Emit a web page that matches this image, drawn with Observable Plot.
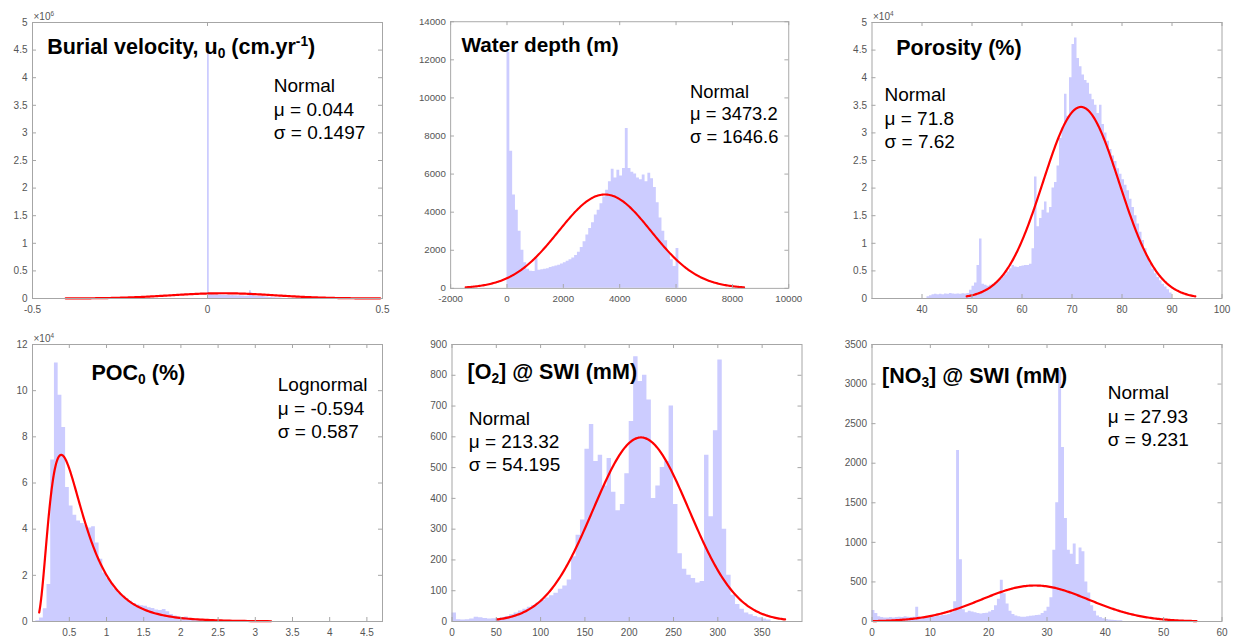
<!DOCTYPE html>
<html>
<head>
<meta charset="utf-8">
<title>Parameter distributions</title>
<script src="https://cdn.jsdelivr.net/npm/d3@7"></script>
<script src="https://cdn.jsdelivr.net/npm/@observablehq/plot@0.6"></script>
<style>
  html, body { margin: 0; padding: 0; background: #fff; }
  #fig { position: relative; width: 1235px; height: 640px; overflow: hidden; background: #fff; }
  .cell { position: absolute; overflow: hidden; }
  .cell svg { display: block; }
</style>
</head>
<body>
<div id="fig"></div>
<script>
// ---------- Burial velocity u0 (cm/yr) ----------
const burialTitle = "Burial velocity, u_{0} (cm.yr^{-1})";
const burialFitName = "Normal";
const burialMu = 0.044, burialSigma = 0.1497, burialPeak = 95000;
const burialStart = 0, burialStep = 0.005;
const burialCounts = [4460000, 70000, 75000, 70000, 65000, 70000, 60000, 65000, 60000, 60000,
  55000, 60000, 55000, 50000, 55000, 50000, 50000, 45000, 50000, 45000,
  45000, 40000, 40000, 45000, 140000, 100000, 45000, 40000, 40000, 35000,
  45000, 35000, 30000, 25000, 25000, 20000, 20000, 15000, 15000, 10000,
  10000, 8000, 6000];
const burialXTicks = [-0.5, 0, 0.5];
const burialYTicks = [0, 5e5, 1e6, 1.5e6, 2e6, 2.5e6, 3e6, 3.5e6, 4e6, 4.5e6, 5e6];

// ---------- Water depth (m) ----------
const waterTitle = "Water depth (m)";
const waterFitName = "Normal";
const waterMu = 3473.2, waterSigma = 1646.6, waterPeak = 4930;
const waterStart = 0, waterStep = 100;
const waterCounts = [12400, 7200, 4900, 4100, 3000, 2000, 1350, 1000, 900, 880,
  1550, 950, 980, 1000, 1030, 1100, 1130, 1170, 1220, 1280,
  1350, 1420, 1500, 1600, 1720, 1900, 2150, 2450, 2800, 3150,
  3450, 3850, 4100, 4450, 4800, 5150, 5600, 6250, 5800, 6200,
  5900, 6300, 8400, 6300, 6100, 6000, 5800, 5700, 5950, 5600,
  6050, 5750, 5300, 4500, 3700, 3000, 2500, 1900, 1500, 1150,
  2100];
const waterXTicks = [-2000, 0, 2000, 4000, 6000, 8000, 10000];
const waterYTicks = [0, 2000, 4000, 6000, 8000, 10000, 12000, 14000];

// ---------- Porosity (%) ----------
const porosityTitle = "Porosity (%)";
const porosityFitName = "Normal";
const porosityMu = 71.8, porositySigma = 7.62, porosityPeak = 34700;
const porosityStart = 41, porosityStep = 0.5;
const porosityCounts = [300, 500, 700, 750, 700, 750, 700, 800, 750, 900,
  800, 750, 800, 750, 850, 800, 900, 1500,
  2200, 2800, 6000, 10800, 2600, 2400, 2200, 2400, 2600, 2900,
  3200, 3500, 3900, 4300, 4800, 5400, 6000, 5700, 5600, 5800,
  5900, 6000, 6000, 6200, 9000, 22000, 13000, 14500, 16000, 17500,
  15500, 16500, 20000, 21000, 24000, 29000, 31000, 37000, 33000, 40000,
  46000, 47200, 43500, 42000, 40500, 39500, 39000, 37000, 36000, 35000,
  33500, 35000, 31500, 30000, 28500, 27000, 25800, 24800, 23500, 22500,
  21500, 20500, 19500, 18000, 16500, 15000, 13500, 12000, 10500, 9000,
  7500, 6300, 5300, 4500, 3800, 3200, 2600, 2100, 1600, 1000];
const porosityXTicks = [40, 50, 60, 70, 80, 90, 100];
const porosityYTicks = [0, 5000, 10000, 15000, 20000, 25000, 30000, 35000, 40000, 45000, 50000];

// ---------- POC0 (%) ----------
const pocTitle = "POC_{0} (%)";
const pocFitName = "Lognormal";
const pocMu = -0.594, pocSigma = 0.587, pocPeak = 72200;
const pocStart = 0.05, pocStep = 0.05;
const pocCounts = [300, 1500, 5500, 16000, 70000, 112000, 98000, 84000, 58000, 50000,
  46000, 43500, 42500, 41500, 40500, 41000, 34000, 27000, 21000, 18500,
  16500, 14000, 12500, 11000, 10000, 8800, 7800, 7200, 6800, 6600,
  6000, 5600, 5000, 4800, 5200, 4200, 3000, 2400, 2000, 1700,
  1900, 1000, 700, 500, 400, 300, 250, 200, 150, 100];
const pocXTicks = [0.5, 1, 1.5, 2, 2.5, 3, 3.5, 4, 4.5];
const pocYTicks = [0, 20000, 40000, 60000, 80000, 100000, 120000];

// ---------- [O2] @ SWI (mM) ----------
const oxygenTitle = "[O_{2}] @ SWI (mM)";
const oxygenFitName = "Normal";
const oxygenMu = 213.32, oxygenSigma = 54.195, oxygenPeak = 598;
const oxygenStart = 0, oxygenStep = 5;
const oxygenCounts = [28, 6, 5, 6, 8, 14, 12, 10, 8, 9,
  10, 12, 16, 22, 28, 34, 40, 46, 52, 60,
  68, 76, 84, 92, 105, 115, 135, 210, 280, 330,
  560, 640, 520, 540, 440, 530, 420, 360, 380, 480,
  650, 860, 780, 800, 720, 400, 440, 500, 520, 700,
  380, 220, 170, 150, 140, 125, 130, 540, 340, 620,
  850, 300, 150, 85, 55, 40, 28, 22, 16, 12,
  8, 5];
const oxygenXTicks = [0, 50, 100, 150, 200, 250, 300, 350];
const oxygenYTicks = [0, 100, 200, 300, 400, 500, 600, 700, 800, 900];

// ---------- [NO3] @ SWI (mM) ----------
const nitrateTitle = "[NO_{3}] @ SWI (mM)";
const nitrateFitName = "Normal";
const nitrateMu = 27.93, nitrateSigma = 9.231, nitratePeak = 455;
const nitrateStart = 0, nitrateStep = 0.5;
const nitrateCounts = [140, 100, 60, 50, 45, 45, 50, 45, 50, 55,
  50, 60, 55, 50, 55, 180, 55, 50, 55, 55,
  60, 60, 65, 70, 75, 80, 90, 110, 250, 2160,
  780, 150, 110, 130, 120, 110, 100, 95, 100, 105,
  120, 140, 200, 280, 520, 350, 220, 130, 90, 70,
  60, 55, 55, 60, 65, 70, 75, 80, 100, 130,
  180, 300, 900, 1500, 3170, 2200, 1300, 900, 850, 980,
  720, 930, 880, 500, 360, 200, 130, 70, 50, 35,
  25, 20, 15, 12, 10, 8];
const nitrateXTicks = [0, 10, 20, 30, 40, 50, 60];
const nitrateYTicks = [0, 500, 1000, 1500, 2000, 2500, 3000, 3500];

// ---------- styling ----------
const FONT = "'Liberation Sans', Arial, Helvetica, sans-serif";
const HIST = "#ccccff";
const FIT = "#ff0000";
const AXIS = "#a6a6a6";
const TEXT = "#555555";
const TICK_LEN = 4;

// histogram outline: one step point per bin start, closed at the last bin edge
function histogram(start, step, counts) {
  const pts = counts.map((c, i) => ({x: start + i * step, count: c}));
  pts.push({x: start + counts.length * step, count: 0});
  return pts;
}

// fitted normal density over mu ± 3 sigma, scaled to the peak count
function normalFit(mu, sigma, peak) {
  return d3.range(241).map(i => {
    const x = mu - 3 * sigma + (6 * sigma * i) / 240;
    return {x, y: peak * Math.exp(-((x - mu) ** 2) / (2 * sigma * sigma))};
  });
}

// fitted lognormal density over exp(mu ± 3 sigma), scaled to the peak count
function lognormalFit(mu, sigma, peak) {
  const f = x => Math.exp(-((Math.log(x) - mu) ** 2) / (2 * sigma * sigma)) / x;
  const fMode = f(Math.exp(mu - sigma * sigma));
  return d3.range(241).map(i => {
    const x = Math.exp(mu - 3 * sigma + (6 * sigma * i) / 240);
    return {x, y: (peak * f(x)) / fMode};
  });
}

const note = (name, mu, sigma) => `${name}\nμ = ${mu}\nσ = ${sigma}`;
const plain = d => String(+d.toFixed(4));

// turn _{...} and ^{...} into lowered / raised tspans
function richify(svg) {
  const NS = "http://www.w3.org/2000/svg";
  for (const t of svg.querySelectorAll("text")) {
    const s = t.textContent;
    if (t.children.length || !/[_^]\{/.test(s)) continue;
    const fs = parseFloat(getComputedStyle(t).fontSize);
    t.textContent = "";
    let offset = 0, last = 0, m;
    const add = (str, target, small) => {
      const ts = document.createElementNS(NS, "tspan");
      const d = target - offset;
      if (d) ts.setAttribute("dy", d.toFixed(2));
      if (small) ts.setAttribute("font-size", (fs * 0.64).toFixed(2));
      ts.textContent = str;
      t.appendChild(ts);
      offset = target;
    };
    const re = /([_^])\{([^}]*)\}/g;
    while ((m = re.exec(s))) {
      if (m.index > last) add(s.slice(last, m.index), 0, false);
      add(m[2], m[1] === "_" ? fs * 0.2 : -fs * 0.38, true);
      last = re.lastIndex;
    }
    if (last < s.length) add(s.slice(last), 0, false);
  }
}

const panels = [
  {left: 0, top: 0, width: 412, clip: 412, ml: 32, mr: 30, mt: 22, mb: 22,
   bins: histogram(burialStart, burialStep, burialCounts), fit: normalFit(burialMu, burialSigma, burialPeak),
   x: [-0.5, 0.5], y: [0, 5e6], xTicks: burialXTicks, yTicks: burialYTicks, yDiv: 1e6, exponent: "×10^{6}",
   title: burialTitle, titlePos: [14.7, 16.3],
   note: note(burialFitName, burialMu, burialSigma), notePos: [241.3, 53.3]},
  {left: 412, top: 0, width: 412, clip: 398, ml: 39.5, mr: 22.5, mt: 22, mb: 22,
   bins: histogram(waterStart, waterStep, waterCounts), fit: normalFit(waterMu, waterSigma, waterPeak),
   x: [-2000, 10000], y: [0, 14000], xTicks: waterXTicks, yTicks: waterYTicks, yDiv: 1, exponent: null,
   title: waterTitle, titlePos: [11.2, 16.5],
   note: note(waterFitName, waterMu, waterSigma), notePos: [247.8, 62]},
  {left: 824, top: 0, width: 411, clip: 411, ml: 47.5, mr: 13.5, mt: 22, mb: 22,
   bins: histogram(porosityStart, porosityStep, porosityCounts), fit: normalFit(porosityMu, porositySigma, porosityPeak),
   x: [30, 100], y: [0, 5e4], xTicks: porosityXTicks, yTicks: porosityYTicks, yDiv: 1e4, exponent: "×10^{4}",
   title: porosityTitle, titlePos: [24.2, 17.3],
   note: note(porosityFitName, porosityMu, porositySigma), notePos: [12.5, 62.2]},
  {left: 0, top: 320, width: 412, clip: 412, ml: 32, mr: 30, mt: 24, mb: 19,
   bins: histogram(pocStart, pocStep, pocCounts), fit: lognormalFit(pocMu, pocSigma, pocPeak),
   x: [0.005, 4.71], y: [0, 1.2e5], xTicks: pocXTicks, yTicks: pocYTicks, yDiv: 1e4, exponent: "×10^{4}",
   title: pocTitle, titlePos: [59, 19.8],
   note: note(pocFitName, pocMu, pocSigma), notePos: [245.3, 30.3]},
  {left: 412, top: 320, width: 412, clip: 412, ml: 39.5, mr: 22.5, mt: 24, mb: 19,
   bins: histogram(oxygenStart, oxygenStep, oxygenCounts), fit: normalFit(oxygenMu, oxygenSigma, oxygenPeak),
   x: [0, 395], y: [0, 900], xTicks: oxygenXTicks, yTicks: oxygenYTicks, yDiv: 1, exponent: null,
   title: oxygenTitle, titlePos: [15.5, 18.8],
   note: note(oxygenFitName, oxygenMu, oxygenSigma), notePos: [16.7, 63.5]},
  {left: 824, top: 320, width: 411, clip: 411, ml: 47.5, mr: 13.5, mt: 24, mb: 19,
   bins: histogram(nitrateStart, nitrateStep, nitrateCounts), fit: normalFit(nitrateMu, nitrateSigma, nitratePeak),
   x: [0, 60], y: [0, 3500], xTicks: nitrateXTicks, yTicks: nitrateYTicks, yDiv: 1, exponent: null,
   title: nitrateTitle, titlePos: [10, 23.3],
   note: note(nitrateFitName, nitrateMu, nitrateSigma), notePos: [235.8, 38.2]}
];

const fig = document.getElementById("fig");
const HEIGHT = 320;

for (const p of panels) {
  const W = p.width - p.ml - p.mr;
  const H = HEIGHT - p.mt - p.mb;
  const marks = [
    // histogram drawn as one stepped area so neighbouring bins merge without seams
    Plot.areaY(p.bins, {x: "x", y: "count", curve: "step-after", fill: HIST}),
    Plot.line(p.fit, {x: "x", y: "y", stroke: FIT, strokeWidth: 2.2}),
    Plot.frame({stroke: AXIS}),
    Plot.tickX(p.xTicks, {x: d => d, stroke: AXIS, insetTop: H - TICK_LEN}),
    Plot.tickX(p.xTicks, {x: d => d, stroke: AXIS, insetBottom: H - TICK_LEN}),
    Plot.tickY(p.yTicks, {y: d => d, stroke: AXIS, insetRight: W - TICK_LEN}),
    Plot.tickY(p.yTicks, {y: d => d, stroke: AXIS, insetLeft: W - TICK_LEN}),
    Plot.axisX({ticks: p.xTicks, tickSize: 0, tickPadding: 7, tickFormat: plain, label: null, fill: TEXT, fontSize: 10}),
    Plot.axisY({ticks: p.yTicks, tickSize: 0, tickPadding: 5, tickFormat: d => plain(d / p.yDiv), label: null, fill: TEXT, fontSize: 10}),
    Plot.text([p.title], {frameAnchor: "top-left", dx: p.titlePos[0], dy: p.titlePos[1], text: d => d,
      textAnchor: "start", lineAnchor: "top", fontSize: 21.5, fontWeight: "bold", fill: "#000"}),
    Plot.text([p.note], {frameAnchor: "top-left", dx: p.notePos[0], dy: p.notePos[1], text: d => d,
      textAnchor: "start", lineAnchor: "top", lineHeight: 1.23, fontSize: 19, fill: "#000"})
  ];
  if (p.exponent) {
    marks.push(Plot.text([p.exponent], {frameAnchor: "top-left", dx: 1, dy: -3, text: d => d,
      textAnchor: "start", lineAnchor: "bottom", fontSize: 10, fill: TEXT}));
  }
  const svg = Plot.plot({
    width: p.width, height: HEIGHT,
    marginLeft: p.ml, marginRight: p.mr, marginTop: p.mt, marginBottom: p.mb,
    x: {domain: p.x}, y: {domain: p.y},
    style: {fontFamily: FONT, fontSize: "10px", background: "transparent", color: "#000"},
    marks
  });
  const cell = document.createElement("div");
  cell.className = "cell";
  cell.style.left = p.left + "px";
  cell.style.top = p.top + "px";
  cell.style.width = p.clip + "px";
  cell.style.height = HEIGHT + "px";
  cell.appendChild(svg);
  fig.appendChild(cell);
  richify(svg);
}
</script>
</body>
</html>
